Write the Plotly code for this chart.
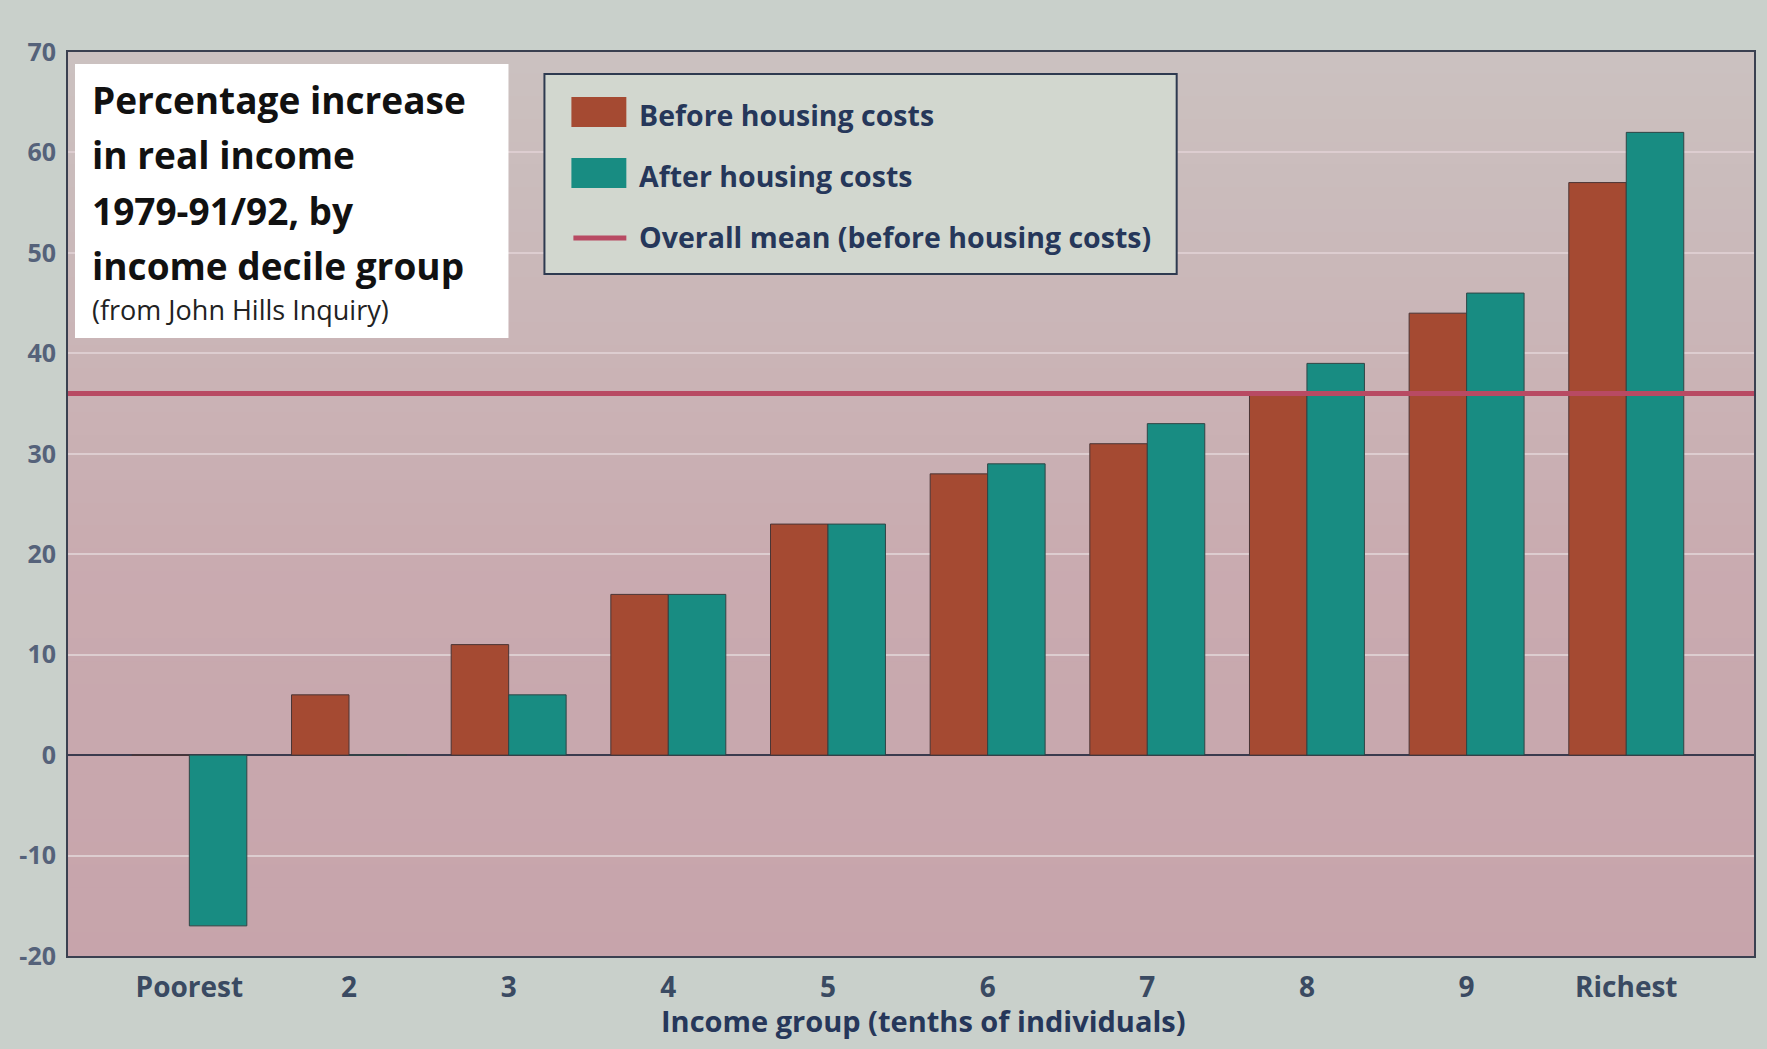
import plotly.graph_objects as go

# ---------------- data ----------------
categories = ["Poorest", "2", "3", "4", "5", "6", "7", "8", "9", "Richest"]
before_housing = [0, 6, 11, 16, 23, 28, 31, 36, 44, 57]
after_housing = [-17, 0, 6, 16, 23, 29, 33, 39, 46, 62]
overall_mean = 36
y_ticks = [-20, -10, 0, 10, 20, 30, 40, 50, 60, 70]
y_tick_labels = ["-20", "-10", "0", "10", "20", "30", "40", "50", "60", "70"]

title_lines = ["Percentage increase", "in real income", "1979-91/92, by", "income decile group"]
subtitle = "(from John Hills Inquiry)"
legend_labels = ["Before housing costs", "After housing costs", "Overall mean (before housing costs)"]
x_title = "Income group (tenths of individuals)"

# ---------------- style ----------------
W, H = 1767, 1049
ML, MR, MT, MB = 68, 11, 52, 93
RED = "#a54a32"
TEAL = "#188c82"
MEAN_C = "#b84a63"
NAVY = "#26375a"
FONT = "Open Sans"

PW = W - ML - MR
PH = H - MT - MB


def px(x):
    return (x - ML) / PW


def py(y):
    return 1 - (y - MT) / PH


def mix(c1, c2, t):
    a = [int(c1[i:i + 2], 16) for i in (1, 3, 5)]
    b = [int(c2[i:i + 2], 16) for i in (1, 3, 5)]
    return "#" + "".join(f"{round(a[k] + (b[k] - a[k]) * t):02x}" for k in range(3))


fig = go.Figure()
fig.add_trace(go.Bar(x=categories, y=before_housing, name=legend_labels[0],
                     marker=dict(color=RED, line=dict(color="#4a3535", width=1))))
fig.add_trace(go.Bar(x=categories, y=after_housing, name=legend_labels[1],
                     marker=dict(color=TEAL, line=dict(color="#2f4545", width=1))))

shapes = []
# soft vertical shading of the plot background (photo lighting)
N = 40
top_c, mid_c, bot_c = "#cbc2c0", "#c9abb0", "#c7a4ab"
for i in range(N):
    t0 = i / N
    t1 = (i + 1) / N
    tc = (t0 + t1) / 2  # 0 = top, 1 = bottom
    if tc < 0.55:
        col = mix(top_c, mid_c, tc / 0.55)
    else:
        col = mix(mid_c, bot_c, (tc - 0.55) / 0.45)
    shapes.append(dict(type="rect", xref="paper", yref="paper", x0=0, x1=1,
                       y0=1 - t1, y1=1 - t0 + 0.001, fillcolor=col, line=dict(width=0), layer="below"))

# mean line
shapes.append(dict(type="line", xref="paper", yref="y", x0=0, x1=1, y0=overall_mean, y1=overall_mean,
                   line=dict(color=MEAN_C, width=5), layer="above"))

# title box
shapes.append(dict(type="rect", xref="paper", yref="paper",
                   x0=px(75), x1=px(509), y0=py(338), y1=py(64),
                   fillcolor="white", line=dict(width=0), layer="above"))
# legend box
shapes.append(dict(type="rect", xref="paper", yref="paper",
                   x0=px(545), x1=px(1178), y0=py(274), y1=py(74),
                   fillcolor="#d2d7cf", line=dict(color="#2e3a50", width=2), layer="above"))
# legend swatches
shapes.append(dict(type="rect", xref="paper", yref="paper",
                   x0=px(572), x1=px(627), y0=py(127), y1=py(97),
                   fillcolor=RED, line=dict(width=0), layer="above"))
shapes.append(dict(type="rect", xref="paper", yref="paper",
                   x0=px(572), x1=px(627), y0=py(188), y1=py(158),
                   fillcolor=TEAL, line=dict(width=0), layer="above"))
shapes.append(dict(type="line", xref="paper", yref="paper",
                   x0=px(574), x1=px(627), y0=py(238), y1=py(238),
                   line=dict(color=MEAN_C, width=5), layer="above"))

annotations = []
for line_text, yc in zip(title_lines, [100, 154, 210, 265]):
    annotations.append(dict(text=line_text, xref="paper", yref="paper", x=px(90), y=py(yc),
                            xanchor="left", yanchor="middle", showarrow=False,
                            font=dict(family=FONT, size=37, color="#111111", weight="bold")))
annotations.append(dict(text=subtitle, xref="paper", yref="paper", x=px(90), y=py(309),
                        xanchor="left", yanchor="middle", showarrow=False,
                        font=dict(family=FONT, size=27, color="#222222")))
for lab, yc in zip(legend_labels, [115, 176, 237]):
    annotations.append(dict(text=lab, xref="paper", yref="paper", x=px(638), y=py(yc),
                            xanchor="left", yanchor="middle", showarrow=False,
                            font=dict(family=FONT, size=28.5, color=NAVY, weight="bold")))
# x-axis title
annotations.append(dict(text=x_title, xref="paper", yref="paper", x=px(925), y=py(1021),
                        xanchor="center", yanchor="middle", showarrow=False,
                        font=dict(family=FONT, size=29, color=NAVY, weight="bold")))

fig.update_layout(
    width=W, height=H,
    margin=dict(l=ML, r=MR, t=MT, b=MB),
    paper_bgcolor="#c9d0cb",
    plot_bgcolor="#c9afb3",
    barmode="group", bargap=0.28, bargroupgap=0,
    showlegend=False,
    shapes=shapes,
    annotations=annotations,
    font=dict(family=FONT),
)
fig.update_xaxes(
    range=[-0.76, 9.8],
    showgrid=False, showline=True, linecolor="#3a4050", linewidth=2, mirror=True,
    ticks="", ticklabelstandoff=5,
    tickfont=dict(family=FONT, size=28, color="#3a4a62", weight="bold"),
)
fig.update_yaxes(
    range=[-20, 70], tickvals=y_ticks, ticktext=y_tick_labels,
    showgrid=True, gridcolor="#ddcdd0", gridwidth=2,
    zeroline=True, zerolinecolor="#3b3b4e", zerolinewidth=2,
    showline=True, linecolor="#3a4050", linewidth=2, mirror=True,
    ticks="", ticklabelstandoff=5,
    tickfont=dict(family=FONT, size=25, color="#55627a", weight="bold"),
)

fig.write_html("out.html")
